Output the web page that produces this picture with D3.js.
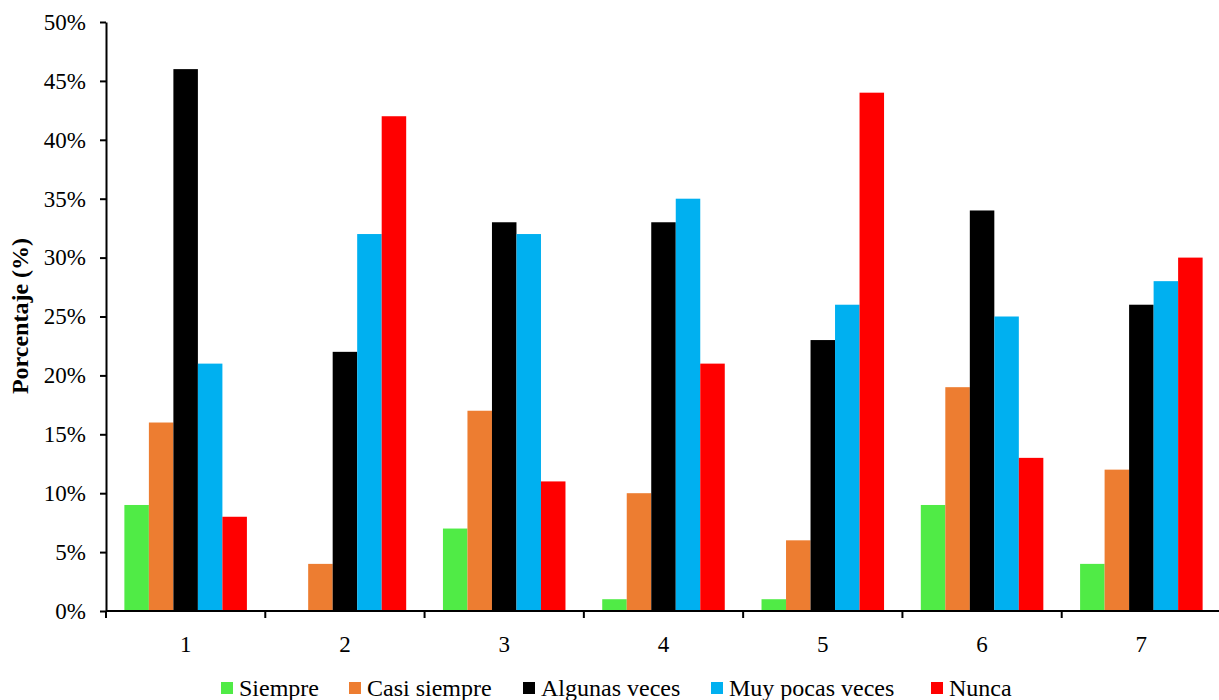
<!DOCTYPE html>
<html><head><meta charset="utf-8">
<script src="https://cdn.jsdelivr.net/npm/d3@7"></script>
<style>body{margin:0;background:#fff}svg{display:block}text{font-family:"Liberation Serif","Times New Roman",serif}</style>
</head><body><svg id="c" width="1219" height="700"></svg>
<script>
const categories = ["1","2","3","4","5","6","7"];
const seriesNames = ["Siempre","Casi siempre","Algunas veces","Muy pocas veces","Nunca"];
const siempre      = [9, 0, 7, 1, 1, 9, 4];
const casiSiempre  = [16, 4, 17, 10, 6, 19, 12];
const algunasVeces = [46, 22, 33, 33, 23, 34, 26];
const muyPocas     = [21, 32, 32, 35, 26, 25, 28];
const nunca        = [8, 42, 11, 21, 44, 13, 30];
const yTicks = [0,5,10,15,20,25,30,35,40,45,50];
const colors = ["#50EB46","#ED7D31","#000000","#00B0F0","#FF0000"];
const values = [siempre, casiSiempre, algunasVeces, muyPocas, nunca];

(function(){
const svg = d3.select("#c");
const mLeft = 106, mRight = 1221, mTop = 22, mBottom = 611;
const x = d3.scaleBand().domain(categories).range([mLeft, mRight]).paddingInner(0).paddingOuter(0);
const xs = d3.scaleBand().domain(seriesNames).range([0, x.bandwidth()]).paddingInner(0).paddingOuter(0.75);
const y = d3.scaleLinear().domain([0, 50]).range([mBottom, mTop]);

const g = svg.append("g");
categories.forEach((c, ci) => {
  seriesNames.forEach((s, si) => {
    const v = values[si][ci];
    if (v <= 0) return;
    g.append("rect")
      .attr("x", x(c) + xs(s))
      .attr("y", y(v))
      .attr("width", xs.bandwidth())
      .attr("height", y(0) - y(v))
      .attr("fill", colors[si]);
  });
});

// Y axis
const yAxis = d3.axisLeft(y).tickValues(yTicks).tickFormat(d => d + "%").tickSize(6).tickSizeOuter(0);
const ya = svg.append("g").attr("transform", `translate(${mLeft},0)`).call(yAxis);
ya.select(".domain").attr("stroke", "#000").attr("stroke-width", 2);
ya.selectAll(".tick line").attr("stroke", "#000").attr("stroke-width", 2);
ya.selectAll(".tick text").attr("x", -20).attr("font-size", 23).attr("fill", "#000");

// X axis
const xa = svg.append("g").attr("transform", `translate(0,${mBottom})`);
xa.append("line").attr("x1", mLeft).attr("x2", mRight).attr("stroke", "#000").attr("stroke-width", 2);
const bounds = categories.map(c => x(c)).concat([mRight]);
xa.selectAll("line.t").data(bounds).enter().append("line").attr("class","t")
  .attr("x1", d => d).attr("x2", d => d).attr("y1", 0).attr("y2", 7)
  .attr("stroke", "#000").attr("stroke-width", 2);
xa.selectAll("text").data(categories).enter().append("text")
  .attr("x", d => x(d) + x.bandwidth() / 2).attr("y", 41)
  .attr("text-anchor", "middle").attr("font-size", 23).text(d => d);

// Y title
svg.append("text").attr("transform", "translate(28,316) rotate(-90)")
  .attr("text-anchor", "middle").attr("font-weight", "bold").attr("font-size", 24)
  .text("Porcentaje (%)");

// Legend
const legX = [221, 349, 523, 711, 931];
const lg = svg.append("g");
seriesNames.forEach((s, i) => {
  lg.append("rect").attr("x", legX[i]).attr("y", 682).attr("width", 12).attr("height", 12).attr("fill", colors[i]);
  lg.append("text").attr("x", legX[i] + 18).attr("y", 696).attr("font-size", 24).text(s);
});
})();
</script></body></html>
